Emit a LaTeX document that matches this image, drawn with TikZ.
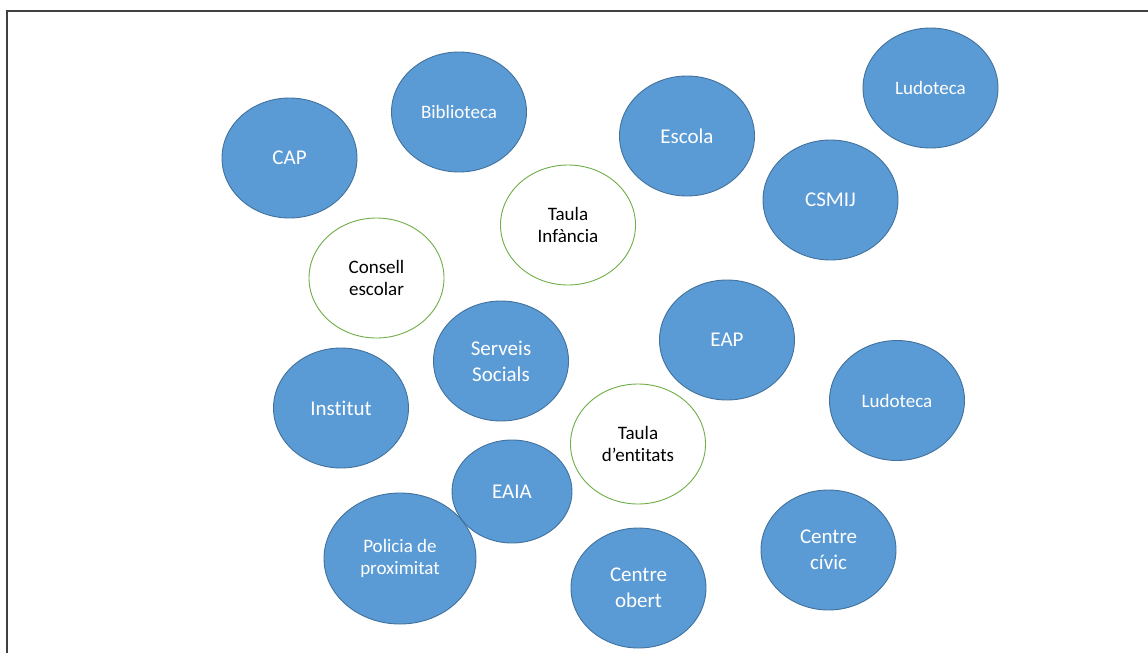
\documentclass[tikz,border=0pt]{standalone}
\usepackage{fontspec}
\setmainfont{Carlito}[Ligatures=NoCommon]
\usepackage{xcolor}
\usepackage{tikz}
\usetikzlibrary{shapes,calc}
\definecolor{ovalBlue}{HTML}{5B9BD5}
\definecolor{ovalEdge}{HTML}{41719C}
\definecolor{ovalGreen}{HTML}{70AD47}
\definecolor{frameGray}{HTML}{404040}
\tikzstyle{tsOval} = [ 
    ellipse,
    inner sep=0pt,
    minimum width=135pt,
    minimum height=120pt,
    align=center,
    line width=0.9pt]
\tikzstyle{tsBlue} = [ 
    tsOval,
    fill=ovalBlue,
    draw=ovalEdge,
    text=white]
\tikzstyle{tsWhite} = [ 
    tsOval,
    fill=white,
    draw=ovalGreen,
    text=black,
    font=\fontsize{19}{22}\selectfont]
\tikzstyle{tsBig} = [ 
    font=\fontsize{21}{26}\selectfont]
\tikzstyle{tsSmall} = [ 
    font=\fontsize{19}{22}\selectfont]

\begin{document}
\begin{tikzpicture}[x=1pt, y=-1pt]
        
        \useasboundingbox (0,0) rectangle (1148,653);
        
        % frame
        \draw[frameGray, line width=2pt] (6.5,653) -- (6.5,10.5) -- (1148,10.5);
        
        % blue ovals
        \node[tsBlue, tsBig]   (cap)      at (289.5,158) {CAP};
        \node[tsBlue, tsSmall] (biblio)   at (459,112)   {Biblioteca};
        \node[tsBlue, tsBig]   (escola)   at (687,136)   {Escola};
        \node[tsBlue, tsSmall] (ludoA)    at (930.5,88)  {Ludoteca};
        \node[tsBlue, tsBig]   (csmij)    at (830.5,200) {CSMIJ};
        \node[tsBlue, tsBig]   (serveis)  at (501,361)   {Serveis\\Socials};
        \node[tsBlue, tsBig]   (eap)      at (727,340)   {EAP};
        \node[tsBlue, tsBig]   (institut) at (341,408)   {Institut};
        \node[tsBlue, tsSmall] (ludoB)    at (897,400.5) {Ludoteca};
        \node[tsBlue, tsBig,
              minimum width=120pt,
              minimum height=103pt]     (eaia)     at (512,491.5) {EAIA};
        \node[tsBlue, tsSmall,
              minimum width=152pt,
              minimum height=131pt]     (policia)  at (400,558.5) {Policia de\\proximitat};
        \node[tsBlue, tsBig]   (obert)    at (638.5,588) {Centre\\obert};
        \node[tsBlue, tsBig]   (civic)    at (828.5,550) {Centre\\cívic};
        
        % white ovals
        \node[tsWhite] (infancia) at (568,225)   {Taula\\Infància};
        \node[tsWhite] (consell)  at (376.5,278) {Consell\\escolar};
        \node[tsWhite] (entitats) at (638,444)   {Taula\\d’entitats};
        
\end{tikzpicture}
\end{document}
